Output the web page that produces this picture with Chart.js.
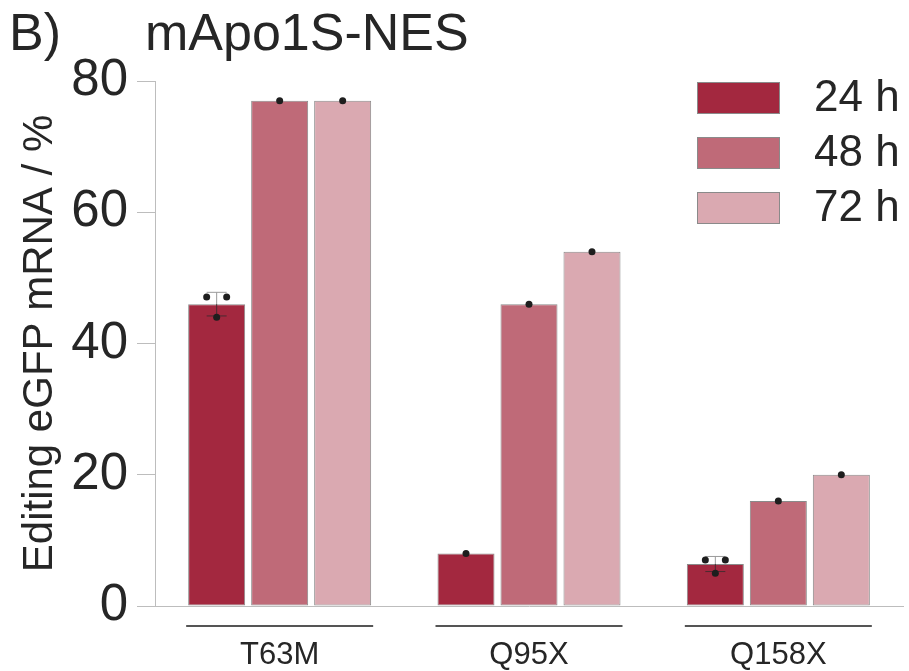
<!DOCTYPE html>
<html>
<head>
<meta charset="utf-8">
<script src="https://cdn.jsdelivr.net/npm/chart.js@4.4.1/dist/chart.umd.min.js"></script>
<style>
  html, body { margin: 0; padding: 0; background: #fff; }
  #wrap { width: 909px; height: 671px; position: relative; }
</style>
</head>
<body>
<div id="wrap"><canvas id="c" width="909" height="671"></canvas></div>
<script>
// Panel texts
const panelLetter = 'B)';
const panelTitle = 'mApo1S-NES';
const yAxisTitle = 'Editing eGFP mRNA / %';

// Categories and series
const mutations = ['T63M', 'Q95X', 'Q158X'];
const timepoints = ['24 h', '48 h', '72 h'];

// Mean editing level (%) per mutation
const edit24 = [46, 8, 6.4];
const edit48 = [77, 46, 16];
const edit72 = [77, 54, 20];

// Standard deviation per mutation
const sd24 = [1.8, 0, 1.15];
const sd48 = [0, 0, 0];
const sd72 = [0, 0, 0];

// Individual replicate measurements
const reps24 = [[47.1, 47.1, 44.0], [8], [7.0, 7.0, 5.0]];
const reps48 = [[77], [46], [16]];
const reps72 = [[77], [54], [20]];

// Y tick values
const yTicks = [0, 20, 40, 60, 80];

const FONT = '"Liberation Sans", Arial, Helvetica, sans-serif';
const TEXT = '#262626';
const AXIS = '#bdbdbd';
const fills = ['#a3283f', '#bf6a78', '#daa9b1'];

const seriesMeans = [edit24, edit48, edit72];
const seriesSd = [sd24, sd48, sd72];
const seriesReps = [reps24, reps48, reps72];

// Replicate dots, error bars and group underlines
const overlayPlugin = {
  id: 'overlay',
  afterDatasetsDraw(chart) {
    const ctx = chart.ctx;
    const y = chart.scales.y;
    const xs = chart.scales.x;
    const jitter = [-10, 10, 0];

    // underline below each mutation group
    ctx.save();
    ctx.strokeStyle = '#555';
    ctx.lineWidth = 2;
    mutations.forEach((m, j) => {
      const first = chart.getDatasetMeta(0).data[j];
      const last = chart.getDatasetMeta(seriesMeans.length - 1).data[j];
      const x0 = first.x - first.width / 2 - 2;
      const x1 = last.x + last.width / 2 + 2;
      const yy = xs.top + 20;
      ctx.beginPath();
      ctx.moveTo(x0, yy);
      ctx.lineTo(x1, yy);
      ctx.stroke();
    });
    ctx.restore();

    seriesMeans.forEach((means, i) => {
      const meta = chart.getDatasetMeta(i);
      meta.data.forEach((bar, j) => {
        const sd = seriesSd[i][j];
        if (sd > 0) {
          const yt = y.getPixelForValue(means[j] + sd);
          const yb = y.getPixelForValue(means[j] - sd);
          const ym = y.getPixelForValue(means[j]);
          ctx.save();
          ctx.lineWidth = 1;
          // part above the bar top
          ctx.strokeStyle = '#9a9a9a';
          ctx.beginPath();
          ctx.moveTo(bar.x, yt); ctx.lineTo(bar.x, ym);
          ctx.moveTo(bar.x - 10, yt); ctx.lineTo(bar.x + 10, yt);
          ctx.stroke();
          // part inside the bar
          ctx.strokeStyle = '#4a2a30';
          ctx.beginPath();
          ctx.moveTo(bar.x, ym); ctx.lineTo(bar.x, yb);
          ctx.moveTo(bar.x - 10, yb); ctx.lineTo(bar.x + 10, yb);
          ctx.stroke();
          ctx.restore();
        }
        const reps = seriesReps[i][j];
        reps.forEach((v, k) => {
          const dx = reps.length > 1 ? jitter[k % jitter.length] : 0;
          ctx.save();
          ctx.fillStyle = '#1e1e1e';
          ctx.beginPath();
          ctx.arc(bar.x + dx, y.getPixelForValue(v), 3.5, 0, Math.PI * 2);
          ctx.fill();
          ctx.restore();
        });
      });
    });
  },
  afterDraw(chart) {
    const ctx = chart.ctx;
    ctx.save();
    // panel heading
    ctx.fillStyle = TEXT;
    ctx.textBaseline = 'alphabetic';
    ctx.textAlign = 'left';
    ctx.font = '52px ' + FONT;
    ctx.fillText(panelLetter, 9, 50);
    ctx.fillText(panelTitle, 145, 50);

    // legend
    chart.data.datasets.forEach((ds, i) => {
      const bx = 697, by = 82 + i * 55, bw = 83, bh = 32;
      ctx.fillStyle = ds.backgroundColor;
      ctx.fillRect(bx, by, bw, bh);
      ctx.strokeStyle = '#8a8a8a';
      ctx.lineWidth = 1;
      ctx.strokeRect(bx + 0.5, by + 0.5, bw - 1, bh - 1);
      ctx.fillStyle = TEXT;
      ctx.font = '44px ' + FONT;
      ctx.textBaseline = 'middle';
      ctx.fillText(ds.label, 814, by + bh / 2 + 1);
    });
    ctx.restore();
  }
};

new Chart(document.getElementById('c'), {
  type: 'bar',
  data: {
    labels: mutations,
    datasets: timepoints.map((t, i) => ({
      label: t,
      data: seriesMeans[i],
      backgroundColor: fills[i],
      borderColor: '#8a8a8a',
      borderWidth: 1,
      borderSkipped: false,
      categoryPercentage: 0.758,
      barPercentage: 0.905
    }))
  },
  options: {
    responsive: false,
    devicePixelRatio: 1,
    animation: false,
    layout: { padding: { top: 81, right: 6, bottom: 0, left: 0 } },
    plugins: {
      legend: { display: false },
      tooltip: { enabled: false },
      title: { display: false }
    },
    scales: {
      x: {
        grid: { display: false, drawTicks: false },
        border: { display: true, color: AXIS, width: 1 },
        ticks: {
          color: TEXT,
          font: { family: FONT, size: 31 },
          padding: 31,
          maxRotation: 0
        },
        afterFit(s) { s.height = 65; }
      },
      y: {
        min: 0,
        max: 80,
        afterBuildTicks(s) { s.ticks = yTicks.map(v => ({ value: v })); },
        grid: {
          drawOnChartArea: false,
          drawTicks: true,
          tickLength: 18,
          color: AXIS
        },
        border: { display: true, color: AXIS, width: 1 },
        ticks: {
          color: TEXT,
          font: { family: FONT, size: 51 },
          padding: 9
        },
        title: {
          display: true,
          text: yAxisTitle,
          color: TEXT,
          font: { family: FONT, size: 42 },
          padding: { top: 15, bottom: 0 }
        },
        afterFit(s) { s.width = 155; }
      }
    }
  },
  plugins: [overlayPlugin]
});
</script>
</body>
</html>
